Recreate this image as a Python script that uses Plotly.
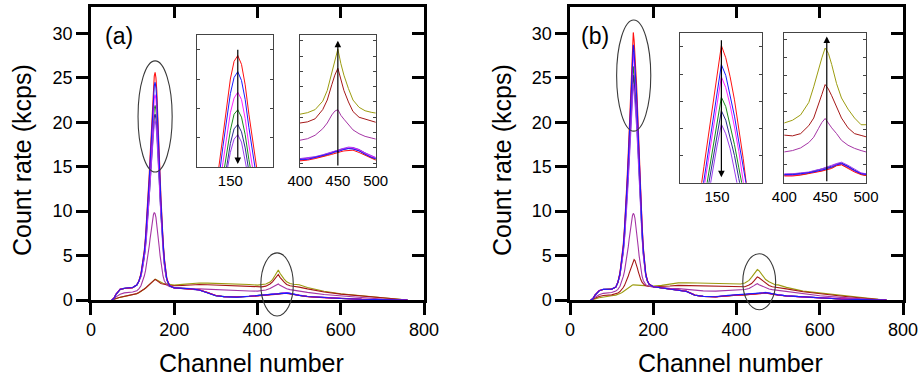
import plotly.graph_objects as go

# ---------------- data ----------------
CHANNELS = [50, 55, 60, 70, 80, 100, 110, 115,
            120, 125, 128, 131, 134, 137, 140, 142, 144, 146, 148, 150, 152, 154, 156,
            158, 160, 162, 164, 166, 168, 170, 173, 176, 179, 182,
            186, 190, 200, 220, 240, 260, 280, 300, 320, 350, 380,
            400, 410, 420, 430, 436, 442, 446, 450, 454, 458, 464, 470, 478, 486, 494, 500,
            520, 560, 600, 650, 700, 740, 760]

# panel (a)
A_RED = [0, 0.2, 0.65, 1.2, 1.3, 1.38, 1.7, 2.15,
         3.0, 4.5, 5.6, 7.2, 9.2, 11.6, 14.2, 16.2, 18.2, 20.2, 22.2, 24.0, 25.2, 25.6, 25.0, 23.6, 21.6, 19.2, 16.6, 14.0, 11.6, 9.4, 6.8, 4.8, 3.4, 2.5,
         1.9, 1.6, 1.35, 1.3, 1.28, 1.15, 0.85, 0.5, 0.36, 0.34, 0.4,
         0.46, 0.48, 0.52, 0.56, 0.6, 0.63, 0.66, 0.68, 0.7, 0.72, 0.74, 0.74, 0.68, 0.6, 0.52, 0.48,
         0.38, 0.26, 0.16, 0.08, 0.03, 0, 0]
A_BLUE = [0, 0.18, 0.62, 1.18, 1.32, 1.4, 1.68, 2.1,
          2.9, 4.4, 5.4, 6.9, 8.8, 11.1, 13.6, 15.5, 17.4, 19.4, 21.3, 23.0, 24.1, 24.5, 23.9, 22.6, 20.7, 18.4, 15.9, 13.4, 11.1, 9.0, 6.6, 4.6, 3.3, 2.4,
          1.85, 1.58, 1.36, 1.32, 1.26, 1.12, 0.82, 0.48, 0.38, 0.32, 0.42,
          0.5, 0.5, 0.55, 0.6, 0.62, 0.66, 0.7, 0.7, 0.73, 0.76, 0.78, 0.77, 0.72, 0.64, 0.55, 0.52,
          0.4, 0.27, 0.17, 0.08, 0.03, 0, 0]
A_MAGENTA = [0, 0.2, 0.66, 1.22, 1.3, 1.37, 1.7, 2.12,
             2.8, 4.2, 5.2, 6.6, 8.4, 10.5, 12.9, 14.7, 16.5, 18.3, 20.1, 21.7, 22.7, 23.1, 22.6, 21.3, 19.5, 17.4, 15.0, 12.7, 10.5, 8.6, 6.2, 4.4, 3.2, 2.4,
             1.88, 1.6, 1.34, 1.3, 1.27, 1.14, 0.84, 0.5, 0.37, 0.35, 0.41,
             0.48, 0.52, 0.54, 0.6, 0.63, 0.67, 0.68, 0.72, 0.74, 0.75, 0.8, 0.79, 0.74, 0.65, 0.57, 0.53,
             0.39, 0.27, 0.16, 0.08, 0.03, 0, 0]
A_GREEN = [0, 0.17, 0.6, 1.19, 1.31, 1.39, 1.69, 2.1,
           2.8, 4.0, 5.0, 6.3, 8.0, 10.0, 12.2, 14.0, 15.6, 17.3, 19.0, 20.5, 21.6, 21.9, 21.4, 20.2, 18.5, 16.5, 14.3, 12.1, 10.0, 8.2, 6.0, 4.3, 3.1, 2.3,
           1.84, 1.57, 1.35, 1.31, 1.27, 1.13, 0.83, 0.49, 0.38, 0.34, 0.42,
           0.49, 0.51, 0.55, 0.58, 0.62, 0.66, 0.69, 0.71, 0.75, 0.77, 0.79, 0.78, 0.73, 0.63, 0.56, 0.5,
           0.39, 0.26, 0.17, 0.08, 0.03, 0, 0]
A_NAVY = [0, 0.19, 0.64, 1.2, 1.3, 1.38, 1.69, 2.1,
          2.7, 3.9, 4.8, 6.1, 7.7, 9.6, 11.7, 13.3, 14.9, 16.6, 18.2, 19.6, 20.6, 20.9, 20.4, 19.3, 17.7, 15.8, 13.6, 11.6, 9.6, 7.9, 5.8, 4.1, 3.0, 2.3,
          1.86, 1.58, 1.36, 1.3, 1.26, 1.12, 0.83, 0.49, 0.36, 0.33, 0.41,
          0.5, 0.53, 0.56, 0.61, 0.64, 0.67, 0.71, 0.73, 0.76, 0.77, 0.8, 0.8, 0.75, 0.66, 0.58, 0.53,
          0.4, 0.28, 0.17, 0.09, 0.03, 0, 0]
A_VIOLET = [0, 0.21, 0.66, 1.23, 1.32, 1.4, 1.71, 2.1,
            2.6, 3.8, 4.7, 5.9, 7.5, 9.3, 11.4, 12.9, 14.5, 16.0, 17.6, 19.0, 19.9, 20.2, 19.7, 18.6, 17.1, 15.2, 13.2, 11.2, 9.3, 7.6, 5.6, 4.0, 3.0, 2.3,
            1.87, 1.6, 1.37, 1.31, 1.27, 1.13, 0.84, 0.5, 0.37, 0.35, 0.43,
            0.52, 0.54, 0.57, 0.62, 0.65, 0.69, 0.72, 0.74, 0.77, 0.79, 0.82, 0.81, 0.76, 0.67, 0.59, 0.55,
            0.41, 0.28, 0.18, 0.09, 0.03, 0, 0]
A_OLIVE = [0, 0.05, 0.15, 0.3, 0.4, 0.55, 0.7, 0.82,
           0.95, 1.12, 1.22, 1.33, 1.45, 1.57, 1.7, 1.8, 1.9, 2.0, 2.1, 2.2, 2.28, 2.34, 2.3, 2.25, 2.15, 2.1, 2.05, 2.0, 1.97, 1.93, 1.88, 1.85, 1.82, 1.8,
           1.78, 1.72, 1.68, 1.76, 1.86, 1.92, 1.9, 1.88, 1.85, 1.8, 1.74,
           1.68, 1.72, 1.8, 2.02, 2.3, 2.75, 3.1, 3.38, 3.0, 2.7, 2.35, 2.05, 1.86, 1.77, 1.73, 1.71,
           1.4, 0.98, 0.7, 0.48, 0.24, 0.06, 0]
A_DARKRED = [0, 0.05, 0.16, 0.32, 0.42, 0.57, 0.72, 0.84,
             0.97, 1.14, 1.24, 1.35, 1.47, 1.6, 1.73, 1.83, 1.93, 2.03, 2.13, 2.22, 2.3, 2.32, 2.26, 2.18, 2.08, 2.0, 1.94, 1.9, 1.86, 1.82, 1.78, 1.75, 1.72, 1.7,
             1.67, 1.64, 1.6, 1.64, 1.72, 1.75, 1.72, 1.68, 1.62, 1.56, 1.5,
             1.45, 1.48, 1.56, 1.8, 2.05, 2.45, 2.7, 2.88, 2.55, 2.3, 2.0, 1.75, 1.6, 1.54, 1.5, 1.45,
             1.25, 0.9, 0.66, 0.45, 0.2, 0.05, 0]
A_PURPLE = [0, 0.1, 0.35, 0.65, 0.8, 0.9, 1.05, 1.25,
            1.6, 2.2, 2.7, 3.3, 4.1, 5.0, 6.1, 6.9, 7.7, 8.5, 9.1, 9.6, 9.85, 9.7, 9.3, 8.6, 7.7, 6.8, 5.9, 5.0, 4.2, 3.5, 2.7, 2.2, 1.9, 1.7,
            1.58, 1.5, 1.4, 1.32, 1.28, 1.25, 1.2, 1.15, 1.1, 1.05, 1.02,
            1.0, 1.04, 1.13, 1.3, 1.45, 1.66, 1.76, 1.8, 1.65, 1.55, 1.42, 1.27, 1.17, 1.1, 1.06, 1.02,
            0.86, 0.62, 0.44, 0.28, 0.1, 0.02, 0]

# panel (b)
B_RED = [0, 0.15, 0.55, 1.05, 1.18, 1.22, 1.45, 2.0,
         3.1, 4.8, 6.3, 8.3, 10.6, 13.5, 16.6, 18.9, 21.2, 23.5, 25.8, 28.1, 30.1, 29.2, 27.8, 26.1, 24.1, 21.8, 19.2, 16.6, 14.0, 11.7, 8.6, 6.0, 4.3, 3.0,
         2.2, 1.8, 1.5, 1.35, 1.22, 1.12, 0.98, 0.55, 0.4, 0.35, 0.5,
         0.55, 0.55, 0.57, 0.6, 0.62, 0.64, 0.66, 0.68, 0.7, 0.72, 0.78, 0.8, 0.72, 0.64, 0.58, 0.55,
         0.45, 0.33, 0.22, 0.12, 0.04, 0, 0]
B_BLUE = [0, 0.14, 0.53, 1.03, 1.2, 1.23, 1.44, 1.98,
          3.0, 4.7, 6.0, 8.0, 10.1, 12.9, 15.9, 18.1, 20.2, 22.4, 24.6, 26.8, 28.7, 27.9, 26.5, 24.9, 23.0, 20.8, 18.3, 15.9, 13.4, 11.2, 8.2, 5.8, 4.1, 2.9,
          2.15, 1.78, 1.5, 1.34, 1.21, 1.1, 0.96, 0.53, 0.41, 0.36, 0.52,
          0.58, 0.58, 0.6, 0.62, 0.64, 0.67, 0.68, 0.7, 0.73, 0.75, 0.8, 0.83, 0.76, 0.67, 0.6, 0.58,
          0.47, 0.34, 0.22, 0.12, 0.04, 0, 0]
B_MAGENTA = [0, 0.16, 0.56, 1.06, 1.19, 1.21, 1.46, 1.99,
             3.0, 4.6, 5.9, 7.7, 9.9, 12.5, 15.4, 17.5, 19.6, 21.7, 23.8, 26.0, 27.8, 27.0, 25.7, 24.1, 22.3, 20.1, 17.8, 15.4, 13.0, 10.9, 8.0, 5.6, 4.0, 2.9,
             2.15, 1.79, 1.49, 1.35, 1.22, 1.11, 0.97, 0.54, 0.4, 0.37, 0.51,
             0.57, 0.56, 0.59, 0.63, 0.63, 0.66, 0.69, 0.71, 0.72, 0.76, 0.81, 0.82, 0.75, 0.66, 0.6, 0.57,
             0.46, 0.33, 0.23, 0.12, 0.04, 0, 0]
B_GREEN = [0, 0.15, 0.54, 1.04, 1.19, 1.22, 1.45, 1.97,
           2.9, 4.4, 5.6, 7.4, 9.4, 11.9, 14.6, 16.6, 18.6, 20.6, 22.6, 24.6, 26.3, 25.6, 24.3, 22.8, 21.1, 19.1, 16.8, 14.6, 12.4, 10.4, 7.6, 5.4, 3.9, 2.8,
           2.12, 1.77, 1.5, 1.34, 1.21, 1.11, 0.97, 0.54, 0.41, 0.36, 0.5,
           0.56, 0.57, 0.58, 0.61, 0.65, 0.66, 0.67, 0.71, 0.73, 0.74, 0.79, 0.81, 0.74, 0.66, 0.59, 0.56,
           0.46, 0.33, 0.22, 0.12, 0.04, 0, 0]
B_NAVY = [0, 0.16, 0.55, 1.05, 1.2, 1.23, 1.45, 1.96,
          2.8, 4.3, 5.5, 7.1, 9.1, 11.4, 14.1, 16.0, 17.9, 19.8, 21.7, 23.6, 25.3, 24.6, 23.4, 22.0, 20.3, 18.4, 16.2, 14.1, 11.9, 10.0, 7.4, 5.2, 3.8, 2.7,
          2.1, 1.76, 1.5, 1.35, 1.22, 1.12, 0.97, 0.55, 0.42, 0.37, 0.52,
          0.58, 0.59, 0.61, 0.63, 0.66, 0.68, 0.7, 0.72, 0.75, 0.77, 0.82, 0.84, 0.77, 0.68, 0.61, 0.59,
          0.47, 0.34, 0.23, 0.12, 0.04, 0, 0]
B_VIOLET = [0, 0.17, 0.57, 1.07, 1.21, 1.24, 1.47, 1.97,
            2.8, 4.2, 5.3, 6.9, 8.7, 11.0, 13.5, 15.4, 17.2, 19.0, 20.9, 22.7, 24.3, 23.6, 22.5, 21.1, 19.5, 17.7, 15.6, 13.5, 11.5, 9.6, 7.1, 5.1, 3.7, 2.7,
            2.1, 1.77, 1.51, 1.36, 1.23, 1.13, 0.98, 0.56, 0.42, 0.38, 0.53,
            0.6, 0.6, 0.62, 0.64, 0.67, 0.69, 0.71, 0.74, 0.76, 0.79, 0.83, 0.86, 0.79, 0.7, 0.62, 0.6,
            0.48, 0.35, 0.24, 0.13, 0.04, 0, 0]
B_OLIVE = [0, 0.04, 0.12, 0.25, 0.35, 0.47, 0.55, 0.62,
           0.72, 0.85, 0.95, 1.06, 1.18, 1.3, 1.42, 1.5, 1.57, 1.62, 1.66, 1.68, 1.7, 1.7, 1.7, 1.69, 1.68, 1.68, 1.67, 1.66, 1.65, 1.65, 1.64, 1.63, 1.62, 1.61,
           1.6, 1.58, 1.57, 1.65, 1.8, 1.93, 1.95, 1.92, 1.9, 1.87, 1.8,
           1.74, 1.8, 1.92, 2.2, 2.55, 2.95, 3.2, 3.42, 3.3, 3.05, 2.62, 2.3, 2.05, 1.85, 1.7, 1.7,
           1.42, 1.0, 0.78, 0.5, 0.25, 0.08, 0]
B_DARKRED = [0, 0.06, 0.2, 0.4, 0.5, 0.58, 0.68, 0.78,
             0.95, 1.2, 1.4, 1.65, 1.95, 2.3, 2.7, 3.0, 3.3, 3.6, 3.9, 4.2, 4.45, 4.55, 4.45, 4.2, 3.9, 3.55, 3.2, 2.85, 2.55, 2.3, 2.0, 1.8, 1.68, 1.6,
             1.55, 1.52, 1.5, 1.5, 1.58, 1.65, 1.63, 1.6, 1.57, 1.55, 1.5,
             1.45, 1.45, 1.5, 1.68, 1.85, 2.15, 2.38, 2.6, 2.5, 2.35, 2.1, 1.85, 1.63, 1.5, 1.46, 1.43,
             1.25, 0.92, 0.68, 0.45, 0.22, 0.06, 0]
B_PURPLE = [0, 0.1, 0.32, 0.6, 0.75, 0.85, 1.0, 1.2,
            1.55, 2.15, 2.65, 3.25, 4.05, 4.95, 6.0, 6.8, 7.6, 8.4, 9.0, 9.5, 9.75, 9.6, 9.2, 8.5, 7.7, 6.8, 5.9, 5.0, 4.2, 3.5, 2.7, 2.2, 1.9, 1.72,
            1.62, 1.55, 1.48, 1.38, 1.32, 1.28, 1.2, 1.08, 1.03, 1.0, 1.05,
            1.09, 1.12, 1.18, 1.3, 1.42, 1.62, 1.75, 1.84, 1.72, 1.63, 1.5, 1.35, 1.24, 1.17, 1.12, 1.09,
            0.92, 0.66, 0.48, 0.3, 0.12, 0.03, 0]

X_TICKS = [0, 200, 400, 600, 800]
Y_TICKS = [0, 5, 10, 15, 20, 25, 30]
INSET1_TICKS = [150]
INSET2_TICKS = [400, 450, 500]

# ---------------- styles / layout constants ----------------
COLORS = {
    "olive": "#9c9c10", "darkred": "#a51818", "purple": "#a535a5",
    "green": "#1a8a1a", "navy": "#2a2a90", "violet": "#9a3cf0",
    "magenta": "#ff22ff", "red": "#ff1010", "blue": "#1a1aff",
}
SERIES_A = [(A_OLIVE, "olive"), (A_DARKRED, "darkred"), (A_PURPLE, "purple"),
            (A_GREEN, "green"), (A_NAVY, "navy"), (A_VIOLET, "violet"),
            (A_MAGENTA, "magenta"), (A_RED, "red"), (A_BLUE, "blue")]
SERIES_B = [(B_OLIVE, "olive"), (B_DARKRED, "darkred"), (B_PURPLE, "purple"),
            (B_GREEN, "green"), (B_NAVY, "navy"), (B_VIOLET, "violet"),
            (B_MAGENTA, "magenta"), (B_RED, "red"), (B_BLUE, "blue")]
for s, _ in SERIES_A + SERIES_B:
    assert len(s) == len(CHANNELS), len(s)

FONT = "Liberation Sans, Arial, sans-serif"
W, H = 921, 380
YDOM = [0.2105, 0.9825]
XDOM_A = [0.0988, 0.4604]
XDOM_B = [0.6189, 0.9805]
XR = [0, 800]
YR = [0, 33]

fig = go.Figure()


def add(xs, ys, color, xa, ya, width=1.1):
    fig.add_trace(go.Scatter(x=xs, y=ys, mode="lines",
                             line=dict(color=color, width=width),
                             xaxis=xa, yaxis=ya, showlegend=False, hoverinfo="skip"))


for series, xa_main, ya_main, insets in [
        (SERIES_A, "x", "y", [("x3", "y3"), ("x4", "y4")]),
        (SERIES_B, "x2", "y2", [("x5", "y5"), ("x6", "y6")])]:
    for ys, cname in series:
        add(CHANNELS, ys, COLORS[cname], xa_main, ya_main)
    for xa, ya in insets:
        for ys, cname in series:
            add(CHANNELS, ys, COLORS[cname], xa, ya, width=1.0)

# dummy traces for mirrored inward-tick frame axes
for xa, ya in [("x7", "y7"), ("x8", "y8")]:
    fig.add_trace(go.Scatter(x=[None], y=[None], xaxis=xa, yaxis=ya,
                             showlegend=False, hoverinfo="skip"))

main_ax = dict(showline=True, linecolor="black", linewidth=2.5, ticks="outside",
               ticklen=12, tickwidth=2.5, tickcolor="black", showgrid=False,
               zeroline=False, automargin=False,
               tickfont=dict(family=FONT, size=18, color="black"))
frame_ax = dict(showline=True, linecolor="black", linewidth=2.5, ticks="inside",
                ticklen=12, tickwidth=2.5, tickcolor="black", showgrid=False,
                zeroline=False, showticklabels=False, automargin=False)
inset_x = dict(showline=True, linecolor="#444", linewidth=1, mirror=True, ticks="",
               showgrid=False, zeroline=False, automargin=False,
               tickfont=dict(family=FONT, size=15, color="black"))
inset_y = dict(showline=True, linecolor="#444", linewidth=1, mirror="ticks",
               ticks="inside", ticklen=3, tickwidth=1, tickcolor="#444",
               showgrid=False, zeroline=False, showticklabels=False, automargin=False)


def px_x(xp):
    return xp / W


def px_y(yp):
    return (H - yp) / H


INSET_A1 = dict(x=[px_x(197), px_x(273)], y=[px_y(167), px_y(35)])
INSET_A2 = dict(x=[px_x(300), px_x(375.7)], y=[px_y(167), px_y(35)])
INSET_B1 = dict(x=[px_x(680), px_x(761.7)], y=[px_y(182.7), px_y(33.3)])
INSET_B2 = dict(x=[px_x(784.3), px_x(866)], y=[px_y(182.7), px_y(33.3)])

fig.update_layout(
    width=W, height=H, margin=dict(l=0, r=0, t=0, b=0, pad=0, autoexpand=False),
    paper_bgcolor="white", plot_bgcolor="white", showlegend=False,
    font=dict(family=FONT, color="black"),
    xaxis=dict(main_ax, domain=XDOM_A, anchor="y", range=XR, tickvals=X_TICKS),
    yaxis=dict(main_ax, domain=YDOM, anchor="x", range=YR, tickvals=Y_TICKS),
    xaxis2=dict(main_ax, domain=XDOM_B, anchor="y2", range=XR, tickvals=X_TICKS),
    yaxis2=dict(main_ax, domain=YDOM, anchor="x2", range=YR, tickvals=Y_TICKS),
    xaxis7=dict(frame_ax, overlaying="x", side="top", anchor="y7", range=XR, tickvals=X_TICKS),
    yaxis7=dict(frame_ax, overlaying="y", side="right", anchor="x7", range=YR, tickvals=Y_TICKS),
    xaxis8=dict(frame_ax, overlaying="x2", side="top", anchor="y8", range=XR, tickvals=X_TICKS),
    yaxis8=dict(frame_ax, overlaying="y2", side="right", anchor="x8", range=YR, tickvals=Y_TICKS),
    xaxis3=dict(inset_x, domain=INSET_A1["x"], anchor="y3", range=[132, 173], tickvals=INSET1_TICKS),
    yaxis3=dict(inset_y, domain=INSET_A1["y"], anchor="x3", range=[18, 27], tickvals=[20, 22, 24, 26]),
    xaxis4=dict(inset_x, domain=INSET_A2["x"], anchor="y4", range=[400, 500], tickvals=INSET2_TICKS),
    yaxis4=dict(inset_y, domain=INSET_A2["y"], anchor="x4", range=[0.3, 3.75], dtick=0.4, tick0=0),
    xaxis5=dict(inset_x, domain=INSET_B1["x"], anchor="y5", range=[133, 170.5], tickvals=INSET1_TICKS),
    yaxis5=dict(inset_y, domain=INSET_B1["y"], anchor="x5", range=[20, 31], tickvals=[22, 24, 26, 28, 30]),
    xaxis6=dict(inset_x, domain=INSET_B2["x"], anchor="y6", range=[400, 500], tickvals=INSET2_TICKS),
    yaxis6=dict(inset_y, domain=INSET_B2["y"], anchor="x6", range=[0.4, 3.75], dtick=0.4, tick0=0),
)


# ellipses (in data units of each main panel), converted to paper coords
def to_paper(xdom, ch, v):
    return (xdom[0] + (ch - XR[0]) / (XR[1] - XR[0]) * (xdom[1] - xdom[0]),
            YDOM[0] + (v - YR[0]) / (YR[1] - YR[0]) * (YDOM[1] - YDOM[0]))


ELLIPSES = [(XDOM_A, 113, 195, 14.4, 26.9), (XDOM_A, 408, 486, -1.8, 5.3),
            (XDOM_B, 112, 194, 19.0, 31.5), (XDOM_B, 415, 494, -1.1, 5.2)]
for xdom, c0, c1, v0, v1 in ELLIPSES:
    x0, y0 = to_paper(xdom, c0, v0)
    x1, y1 = to_paper(xdom, c1, v1)
    fig.add_shape(type="circle", xref="paper", yref="paper", x0=x0, x1=x1, y0=y0, y1=y1,
                  line=dict(color="#3a3a3a", width=1.1))

# arrows in insets
ARROWS = [("x3", "y3", 154, 26.1, 18.2), ("x4", "y4", 450, 0.3, 3.6),
          ("x5", "y5", 152, 30.6, 20.4), ("x6", "y6", 452, 0.4, 3.68)]
for xa, ya, xc, ytail, yhead in ARROWS:
    fig.add_annotation(x=xc, y=yhead, ax=xc, ay=ytail, xref=xa, yref=ya, axref=xa, ayref=ya,
                       text="", showarrow=True, arrowhead=2, arrowsize=1.1, arrowwidth=1.2,
                       arrowcolor="black")

# texts
fig.add_annotation(text="(a)", x=px_x(103), y=px_y(36), xref="paper", yref="paper",
                   xanchor="left", yanchor="middle", showarrow=False,
                   font=dict(family=FONT, size=23, color="black"))
fig.add_annotation(text="(b)", x=px_x(579), y=px_y(36), xref="paper", yref="paper",
                   xanchor="left", yanchor="middle", showarrow=False,
                   font=dict(family=FONT, size=23, color="black"))
for xc in [22, 502]:
    fig.add_annotation(text="Count rate (kcps)", x=px_x(xc), y=px_y(160), xref="paper",
                       yref="paper", textangle=-90, showarrow=False,
                       xanchor="center", yanchor="middle",
                       font=dict(family=FONT, size=25, color="black"))
for xc in [251, 730]:
    fig.add_annotation(text="Channel number", x=px_x(xc), y=px_y(363), xref="paper",
                       yref="paper", showarrow=False, xanchor="center", yanchor="middle",
                       font=dict(family=FONT, size=25, color="black"))

fig.write_html("out.html")
